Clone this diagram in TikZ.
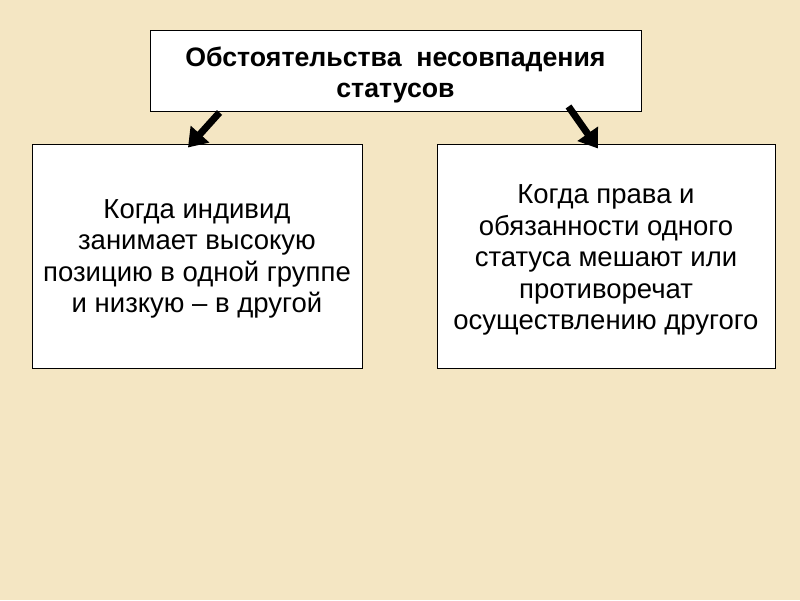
\documentclass[tikz,border=0pt]{standalone}
\usepackage{fontspec}
\setmainfont{Liberation Sans}
\usetikzlibrary{arrows.meta,calc}
\definecolor{bg}{RGB}{244,230,195}
\tikzset{
  box/.style={draw=black, line width=1pt, fill=white, inner sep=0pt},
  txt/.style={align=center, inner sep=0pt},
  body/.style={font=\fontsize{27.5}{31.4}\selectfont},
  fatarrow/.style={line width=7pt, -{Triangle[length=18pt,width=24pt]}}
}
\begin{document}
\begin{tikzpicture}[x=1pt,y=1pt]
\fill[bg] (0,0) rectangle (800,600);
\useasboundingbox (0,0) rectangle (800,600);
\node[box, minimum width=491pt, minimum height=81pt] (top) at (395.5,528.5) {};
\node[box, minimum width=330pt, minimum height=224pt] (left) at (197,343) {};
\node[box, minimum width=338pt, minimum height=224pt] (right) at (606,343) {};
\node[txt, font=\bfseries\fontsize{26.7}{31}\selectfont] (topt) at ($(top.center)+(0,-3)$) {Обстоятельства\ \ несовпадения\\статусов};
\node[txt, body] (leftt) at ($(left.center)+(0,-2)$) {Когда индивид\\занимает высокую\\позицию в одной группе\\и низкую – в другой};
\node[txt, body] (rightt) at ($(right.center)+(0,-3)$) {Когда права и\\обязанности одного\\статуса мешают или\\противоречат\\осуществлению другого};
\draw[fatarrow] ($(top.south west)+(70,0)$) -- ($(left.north)+(-9,-3)$);
\draw[fatarrow] ($(top.south east)+(-73,6)$) -- ($(right.north)+(-8,-4)$);
\end{tikzpicture}
\end{document}
